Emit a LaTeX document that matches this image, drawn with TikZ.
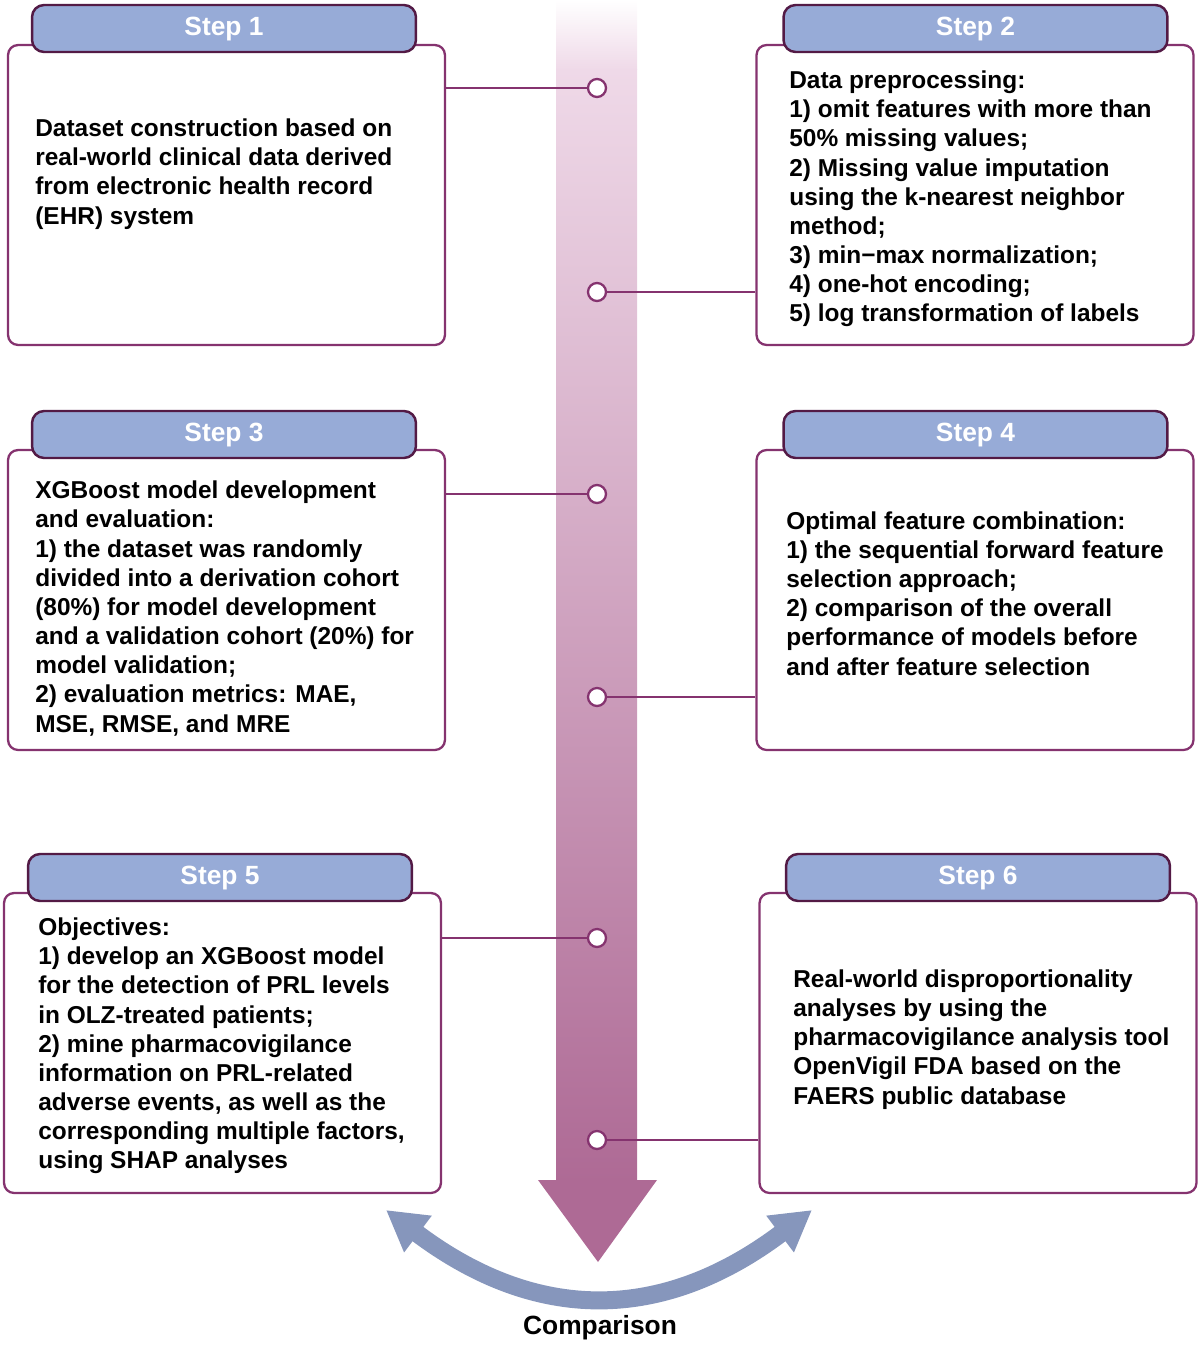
\documentclass[tikz,border=0pt]{standalone}
\usepackage{fontspec}
\setmainfont{Liberation Sans}
\usetikzlibrary{arrows.meta}
\definecolor{boxline}{HTML}{85336F}
\definecolor{hdfill}{HTML}{97ABD7}
\definecolor{hdline}{HTML}{531A45}
\definecolor{shaftlight}{HTML}{EFD9E8}
\definecolor{shaftdark}{HTML}{AE6A95}
\definecolor{curvecol}{HTML}{8696BC}
\begin{document}
\begin{tikzpicture}[x=0.02cm,y=-0.02cm,
stepbox/.style={draw=boxline,line width=1.3pt,rounded corners=0.2cm,minimum width=8.74cm,minimum height=6cm,fill=white},
stephead/.style={draw=hdline,line width=1.4pt,fill=hdfill,rounded corners=0.24cm,minimum width=7.68cm,minimum height=0.94cm,text=white,text depth=0.1cm,font=\bfseries\fontsize{15}{18}\selectfont},
steptext/.style={anchor=west,align=left,inner sep=0pt,font=\bfseries\fontsize{13.9}{16.6}\selectfont},
dotmark/.style={circle,draw=boxline,line width=1.3pt,fill=white,minimum size=0.36cm,inner sep=0pt},
link/.style={draw=boxline,line width=1.3pt}]
\useasboundingbox (0,0) rectangle (1200,1345);
% timeline arrow
\shade[top color=white,bottom color=shaftlight] (556,0) rectangle (637,70);
\shade[top color=shaftlight,bottom color=shaftdark] (556,70) rectangle (637,1182);
\fill[shaftdark] (538,1180) -- (657,1180) -- (598,1262) -- cycle;
% boxes
\node[stepbox] (box1) at (226.5,195) {};
\node[stepbox] (box2) at (975,195) {};
\node[stepbox] (box3) at (226.5,600) {};
\node[stepbox] (box4) at (975,600) {};
\node[stepbox] (box5) at (222.5,1043) {};
\node[stepbox] (box6) at (978,1043) {};
\node[stephead] (hd1) at (224,28.5) {Step 1};
\node[stephead] (hd2) at (975.5,28.5) {Step 2};
\node[stephead] (hd3) at (224,434.5) {Step 3};
\node[stephead] (hd4) at (975.5,434.5) {Step 4};
\node[stephead] (hd5) at (220,877.5) {Step 5};
\node[stephead] (hd6) at (978,877.5) {Step 6};
\node[steptext] (txt1) at (35,174) {Dataset construction based on\\
real-world clinical data derived\\
from electronic health record\\
(EHR) system};
\node[steptext] (txt2) at (789,199) {Data preprocessing:\\
1) omit features with more than\\
50\% missing values;\\
2) Missing value imputation\\
using the k-nearest neighbor\\
method;\\
3) min−max normalization;\\
4) one-hot encoding;\\
5) log transformation of labels};
\node[steptext] (txt3) at (35,608.5) {XGBoost model development\\
and evaluation:\\
1) the dataset was randomly\\
divided into a derivation cohort\\
(80\%) for model development\\
and a validation cohort (20\%) for\\
model validation;\\
2) evaluation metrics: MAE,\\
MSE, RMSE, and MRE};
\node[steptext] (txt4) at (786,593.5) {Optimal feature combination:\\
1) the sequential forward feature\\
selection approach;\\
2) comparison of the overall\\
performance of models before\\
and after feature selection};
\node[steptext] (txt5) at (38,1046) {Objectives:\\
1) develop an XGBoost model\\
for the detection of PRL levels\\
in OLZ-treated patients;\\
2) mine pharmacovigilance\\
information on PRL-related\\
adverse events, as well as the\\
corresponding multiple factors,\\
using SHAP analyses};
\node[steptext] (txt6) at (793,1039.5) {Real-world disproportionality\\
analyses by using the\\
pharmacovigilance analysis tool\\
OpenVigil FDA based on the\\
FAERS public database};
% markers on the timeline
\node[dotmark] (c1) at (597,88) {};
\node[dotmark] (c2) at (597,292) {};
\node[dotmark] (c3) at (597,494) {};
\node[dotmark] (c4) at (597,697) {};
\node[dotmark] (c5) at (597,938) {};
\node[dotmark] (c6) at (597,1140) {};
\draw[link] (box1.east |- c1) -- (c1);
\draw[link] (box2.west |- c2) -- (c2);
\draw[link] (box3.east |- c3) -- (c3);
\draw[link] (box4.west |- c4) -- (c4);
\draw[link] (box5.east |- c5) -- (c5);
\draw[link] (box6.west |- c6) -- (c6);
% comparison
\coordinate (cl) at (386,1210);
\coordinate (cr) at (812,1210);
\draw[curvecol,line width=0.36cm,{Triangle[length=0.8cm,width=0.86cm]}-{Triangle[length=0.8cm,width=0.86cm]}] (cl) .. controls (536,1323) and (662,1323) .. (cr);
\node[font=\bfseries\fontsize{15}{18}\selectfont] (cmp) at (600,1328) {Comparison};
\end{tikzpicture}
\end{document}
